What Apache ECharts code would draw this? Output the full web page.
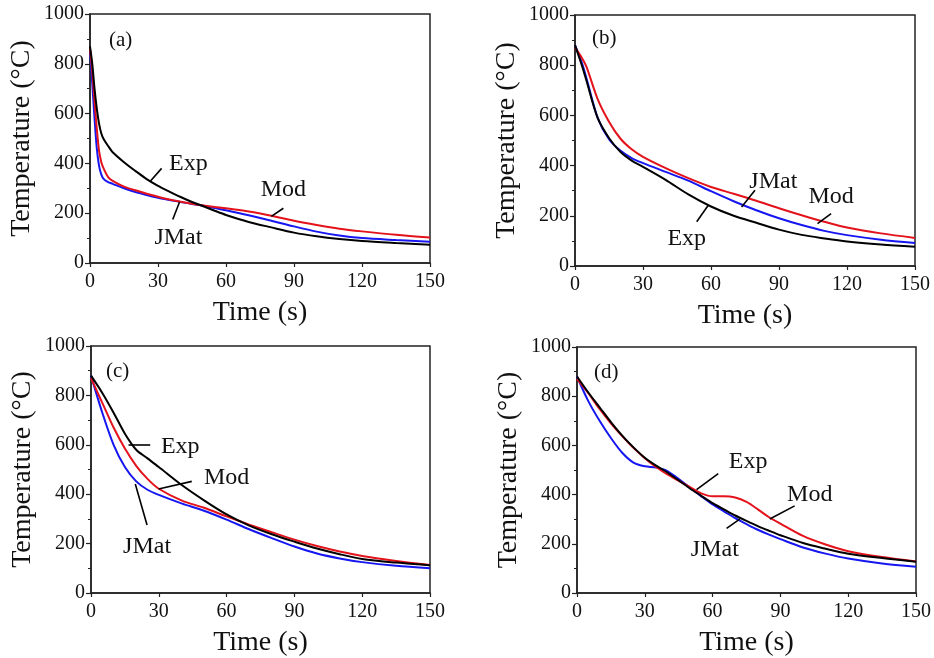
<!DOCTYPE html>
<html><head><meta charset="utf-8">
<script src="https://cdn.jsdelivr.net/npm/echarts@6/dist/echarts.min.js"></script>
<style>html,body{margin:0;padding:0;background:#fff}#c{width:934px;height:658px}</style>
</head><body><div id="c"></div>
<script>
// ---- data ----
const xTicks = [0, 30, 60, 90, 120, 150];
const yTicks = [0, 200, 400, 600, 800, 1000];

const timeA = [0,1,2,3,4,5,6,8,10,15,20,25,30,35,40,45,50,55,60,70,80,90,100,110,120,135,150];
const expA  = [870,800,700,620,560,520,498,470,445,405,370,337,310,287,265,245,228,210,193,165,143,122,107,96,88,80,73];
const modA  = [860,770,650,540,450,405,380,345,330,307,292,278,266,255,246,238,231,225,220,207,190,170,153,138,127,113,102];
const jmatA = [850,720,580,460,390,355,338,325,318,300,285,273,262,253,245,237,230,221,212,192,170,147,126,110,100,92,85];

const timeB = [0,3,5,10,15,20,25,30,40,50,60,70,80,90,100,110,120,135,150];
const expB  = [880,800,740,590,510,455,420,395,343,285,237,200,172,145,124,110,98,86,77];
const modB  = [870,830,795,665,575,508,465,435,390,350,315,288,260,230,202,176,153,130,112];
const jmatB = [880,810,750,590,505,460,430,410,375,340,298,258,222,190,163,140,123,105,92];

const timeC = [0,5,10,15,20,25,30,40,50,60,70,80,90,100,110,120,135,150];
const expC  = [880,810,730,645,580,545,510,438,375,318,273,238,208,180,157,138,123,112];
const modC  = [870,770,670,585,515,462,422,375,345,310,277,246,216,190,168,150,130,113];
const jmatC = [880,730,600,510,452,418,397,363,333,297,258,222,188,160,140,125,110,100];

const timeD = [0,5,10,15,20,25,30,35,40,50,55,60,65,70,75,80,85,90,100,110,120,135,150];
const expD  = [880,815,755,695,640,592,550,518,490,425,395,365,340,315,293,272,253,235,203,180,160,142,127];
const modD  = [870,812,748,690,638,590,548,512,482,430,405,393,393,388,370,340,308,282,232,197,170,146,128];
const jmatD = [880,780,700,630,570,530,515,510,495,428,393,360,332,304,280,257,237,219,185,160,140,120,107];

const panelLabels = ['(a)', '(b)', '(c)', '(d)'];
const seriesNames = ['Exp', 'Mod', 'JMat'];

// annotation text positions and leader lines, in data coordinates [time, temperature]
const annA = [
  {text:'Exp',  at:[43.4,400], line:[[26.5,327],[31.6,380]]},
  {text:'Mod',  at:[85.3,293], line:[[80,187],[85.3,220]]},
  {text:'JMat', at:[39,100],   line:[[36.5,175],[39.5,245]]}
];
const annB = [
  {text:'JMat', at:[87.5,335], line:[[73.5,235],[79.4,302]]},
  {text:'Mod',  at:[113,275],  line:[[107,169],[113,209]]},
  {text:'Exp',  at:[49.3,109], line:[[53.7,176],[58.8,242]]}
];
const annC = [
  {text:'Exp',  at:[39.5,593], line:[[16.6,600],[26.2,600]]},
  {text:'Mod',  at:[60,468],   line:[[29.9,421],[44.6,452]]},
  {text:'JMat', at:[24.8,189], line:[[19.6,441],[24.8,275]]}
];
const annD = [
  {text:'Exp',  at:[75.7,532], line:[[52.9,420],[62.5,485]]},
  {text:'Mod',  at:[103,400],  line:[[85.3,301],[96.3,354]]},
  {text:'JMat', at:[61,175],   line:[[66.2,263],[72,300]]}
];

// ---- layout ----
const grids = [
  {left:90,  top:14,  width:340, height:249},
  {left:575, top:15,  width:340, height:251},
  {left:91,  top:346, width:339, height:252},
  {left:577, top:347, width:340, height:252}
];
const labelPos = [[104,25],[587,23],[101,356],[589,357]];
const colors = ['#000000', '#e3121b', '#1616f0'];
const FONT = '"Liberation Serif", "Times New Roman", serif';

const panels = [
  {t:timeA, v:[expA, modA, jmatA], ann:annA},
  {t:timeB, v:[expB, modB, jmatB], ann:annB},
  {t:timeC, v:[expC, modC, jmatC], ann:annC},
  {t:timeD, v:[expD, modD, jmatD], ann:annD}
];

const option = {
  backgroundColor:'#fff',
  animation:false,
  title: panelLabels.map((s,i)=>({text:s, left:labelPos[i][0], top:labelPos[i][1],
    textStyle:{fontFamily:FONT, fontSize:21, fontWeight:'normal', color:'#111'}})),
  grid: grids.map(g=>Object.assign({show:true, borderColor:'#222', borderWidth:1.5, backgroundColor:'transparent'}, g)),
  xAxis: grids.map((g,i)=>({
    gridIndex:i, type:'value', min:xTicks[0], max:xTicks[xTicks.length-1], interval:xTicks[1]-xTicks[0],
    name:'Time (s)', nameLocation:'middle', nameGap:36,
    nameTextStyle:{fontFamily:FONT, fontSize:28, color:'#111'},
    axisLine:{show:true, onZero:false, lineStyle:{color:'#222', width:1.5}},
    axisTick:{show:true, inside:false, length:4, lineStyle:{color:'#222', width:1.2}},
    splitLine:{show:false},
    axisLabel:{fontFamily:FONT, fontSize:20, color:'#111', margin:9, formatter:v=>String(v)}
  })),
  yAxis: grids.map((g,i)=>({
    gridIndex:i, type:'value', min:yTicks[0], max:yTicks[yTicks.length-1], interval:yTicks[1]-yTicks[0],
    name:'Temperature (°C)', nameLocation:'middle', nameGap:54,
    nameTextStyle:{fontFamily:FONT, fontSize:28, color:'#111'},
    axisLine:{show:true, onZero:false, lineStyle:{color:'#222', width:1.5}},
    axisTick:{show:true, inside:false, length:5, lineStyle:{color:'#222', width:1.2}},
    minorTick:{show:true, splitNumber:2, length:3, lineStyle:{color:'#222'}},
    splitLine:{show:false},
    axisLabel:{fontFamily:FONT, fontSize:20, color:'#111', margin:6, formatter:v=>String(v)}
  })),
  series: []
};

panels.forEach((p,i)=>{
  [2,1,0].forEach(k=>{
    const s = {
      type:'line', name:seriesNames[k], xAxisIndex:i, yAxisIndex:i,
      data:p.t.map((t,j)=>[t, p.v[k][j]]),
      smooth:0.3, showSymbol:false, symbol:'none',
      lineStyle:{color:colors[k], width:2}, z:2
    };
    if (k===0) {
      s.markLine = {
        silent:true, symbol:['none','none'], animation:false,
        lineStyle:{color:'#000', width:1.6, type:'solid'},
        label:{show:false},
        data:p.ann.map(a=>[{coord:a.line[0]},{coord:a.line[1]}])
      };
      s.markPoint = {
        silent:true, symbol:'circle', symbolSize:1, itemStyle:{color:'rgba(0,0,0,0)'},
        label:{show:true, position:'inside', fontFamily:FONT, fontSize:24, color:'#111',
          formatter:(d)=>d.name},
        data:p.ann.map(a=>({name:a.text, coord:a.at}))
      };
    }
    option.series.push(s);
  });
});

const chart = echarts.init(document.getElementById('c'), null, {renderer:'canvas'});
chart.setOption(option);
</script>
</body></html>
